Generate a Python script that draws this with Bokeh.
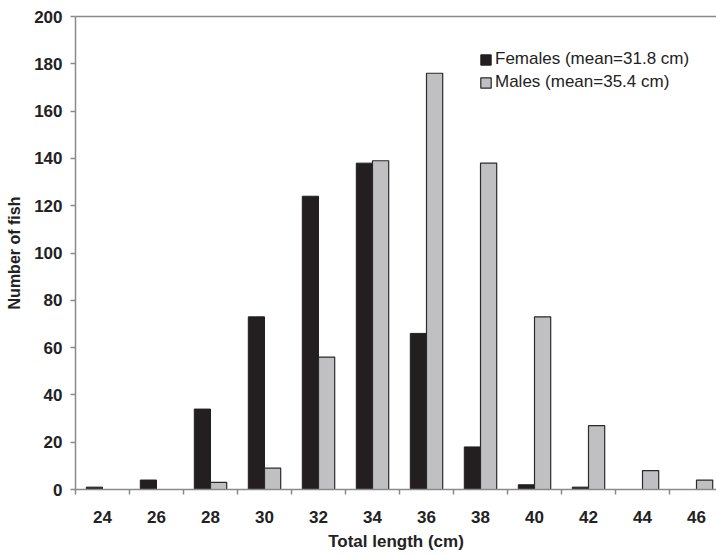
from bokeh.plotting import figure
from bokeh.models import Range1d, FixedTicker, LinearAxis, Legend, LegendItem, ColumnDataSource
from bokeh.embed import file_html
from bokeh.resources import INLINE

lengths = [24, 26, 28, 30, 32, 34, 36, 38, 40, 42, 44, 46]
females = [1, 4, 34, 73, 124, 138, 66, 18, 2, 1, 0, 0]
males = [0, 0, 3, 9, 56, 139, 176, 138, 73, 27, 8, 4]
y_ticks = [0, 20, 40, 60, 80, 100, 120, 140, 160, 180, 200]
female_label = "Females (mean=31.8 cm)"
male_label = "Males (mean=35.4 cm)"
x_title = "Total length (cm)"
y_title = "Number of fish"

FONT = "Liberation Sans"
AXIS_GRAY = "#8a8a8a"
TEXT = "#222222"

W, H = 716, 555
LEFT, TOP, BOTTOM = 75, 16, 66
bin_w = lengths[1] - lengths[0]
px_per_bin = 54.0
x0 = lengths[0] - bin_w / 2
x1 = x0 + bin_w * (W - LEFT) / px_per_bin

fsrc = ColumnDataSource(dict(
    x=[l - 0.3 for l, v in zip(lengths, females) if v > 0],
    top=[v for v in females if v > 0]))
msrc = ColumnDataSource(dict(
    x=[l + 0.3 for l, v in zip(lengths, males) if v > 0],
    top=[v for v in males if v > 0]))

p = figure(width=W, height=H, output_backend="svg", toolbar_location=None,
           x_range=Range1d(x0, x1), y_range=Range1d(0, 200),
           min_border_left=LEFT, min_border_top=TOP, min_border_bottom=BOTTOM,
           min_border_right=0)
p.outline_line_color = None
p.xgrid.visible = False
p.ygrid.visible = False
p.background_fill_color = "white"
p.border_fill_color = "white"

rf = p.vbar(x="x", top="top", width=0.6, bottom=0, source=fsrc,
            fill_color="#231f20", line_color="#231f20", line_width=1)
rm = p.vbar(x="x", top="top", width=0.6, bottom=0, source=msrc,
            fill_color="#c0c0c2", line_color="#2a2a2a", line_width=1.2)

# x axis
xa = p.xaxis[0]
xa.ticker = FixedTicker(ticks=lengths,
                        minor_ticks=[l - bin_w / 2 for l in lengths] + [lengths[-1] + bin_w / 2])
xa.major_tick_line_color = None
xa.major_tick_out = 5
xa.major_tick_in = 0
xa.minor_tick_out = 5
xa.minor_tick_in = 0
xa.minor_tick_line_color = AXIS_GRAY
xa.minor_tick_line_width = 1.5
xa.axis_line_color = AXIS_GRAY
xa.axis_line_width = 1.5
xa.major_label_standoff = 16
xa.major_label_text_font = FONT
xa.major_label_text_font_style = "bold"
xa.major_label_text_font_size = "17px"
xa.major_label_text_color = TEXT
xa.axis_label = x_title
xa.axis_label_text_font = FONT
xa.axis_label_text_font_style = "bold"
xa.axis_label_text_font_size = "17px"
xa.axis_label_text_color = TEXT
xa.axis_label_standoff = 6

# y axis
ya = p.yaxis[0]
ya.ticker = FixedTicker(ticks=y_ticks, minor_ticks=[])
ya.major_tick_out = 5
ya.major_tick_in = 0
ya.major_tick_line_color = AXIS_GRAY
ya.major_tick_line_width = 1.5
ya.axis_line_color = AXIS_GRAY
ya.axis_line_width = 1.5
ya.major_label_standoff = 8
ya.major_label_text_font = FONT
ya.major_label_text_font_style = "bold"
ya.major_label_text_font_size = "17px"
ya.major_label_text_color = TEXT
ya.axis_label = y_title
ya.axis_label_text_font = FONT
ya.axis_label_text_font_style = "bold"
ya.axis_label_text_font_size = "16px"
ya.axis_label_text_color = TEXT
ya.axis_label_standoff = 8

# top border line
top_axis = LinearAxis(ticker=FixedTicker(ticks=[]), major_label_text_font_size="0px",
                      major_tick_line_color=None, minor_tick_line_color=None,
                      axis_line_color=AXIS_GRAY, axis_line_width=1.5)
p.add_layout(top_axis, "above")

legend = Legend(items=[LegendItem(label=female_label, renderers=[rf]),
                       LegendItem(label=male_label, renderers=[rm])],
                location=(404, 397), orientation="vertical",
                glyph_width=13, glyph_height=13, label_height=13,
                label_standoff=3, spacing=3, padding=0, margin=0,
                border_line_color=None, background_fill_alpha=0,
                label_text_font=FONT, label_text_font_size="17px",
                label_text_color=TEXT)
p.add_layout(legend)

open("out.html", "w").write(file_html(p, INLINE))
